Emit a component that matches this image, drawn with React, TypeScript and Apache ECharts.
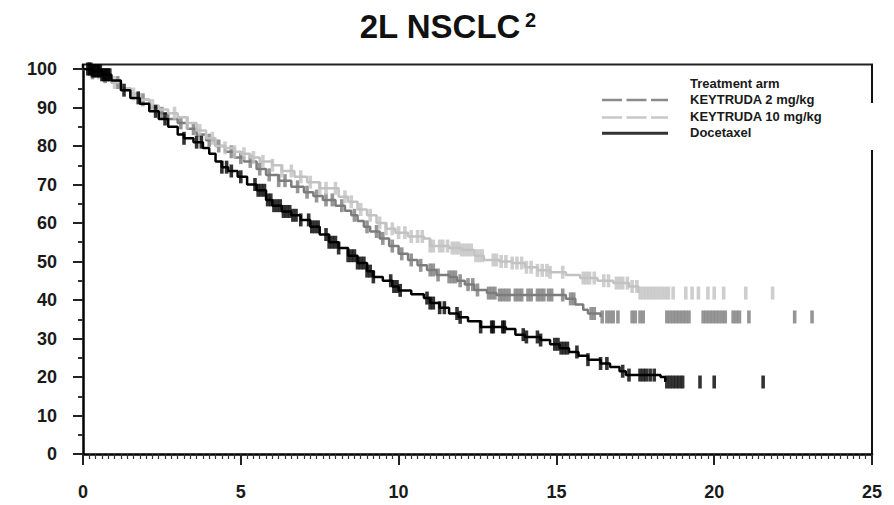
import React, { useEffect, useRef } from 'react';
import * as echarts from 'echarts';

// ---- Data (months, % survival) ----
const titleMain = '2L NSCLC';
const titleSup = '2';
const legendHeader = 'Treatment arm';
const seriesNames = ['KEYTRUDA 2 mg/kg', 'KEYTRUDA 10 mg/kg', 'Docetaxel'];

const keytruda2Curve: [number, number][] = [
  [0, 100], [0.3, 99], [0.6, 98], [0.9, 96.5], [1.2, 95], [1.5, 93.5], [1.8, 92], [2.1, 90],
  [2.4, 88.5], [2.7, 87], [3.0, 86], [3.3, 84.5], [3.6, 83], [3.9, 81.5], [4.2, 80], [4.5, 78.5],
  [4.8, 77], [5.1, 76], [5.5, 74], [5.8, 72.5], [6.2, 71], [6.6, 69.4], [7.0, 68], [7.3, 67],
  [7.6, 66], [8.0, 64.5], [8.3, 63.2], [8.5, 62], [8.7, 60.5], [8.9, 59], [9.1, 57.8], [9.4, 56],
  [9.7, 54], [10.0, 52], [10.3, 50.4], [10.6, 49], [10.9, 47.8], [11.2, 46.5], [11.6, 46],
  [11.85, 45], [12.1, 44], [12.4, 42.6], [12.8, 41.8], [13.1, 41.3], [15.3, 40.3], [15.6, 38.8],
  [15.85, 37.5], [16.0, 36.5], [16.4, 35.6]
];
const keytruda10Curve: [number, number][] = [
  [0, 100], [0.3, 99], [0.6, 98], [0.9, 96.5], [1.2, 95], [1.5, 93.5], [1.8, 92], [2.1, 90.5],
  [2.4, 89.5], [2.7, 88.5], [3.0, 87.5], [3.3, 86], [3.6, 84], [3.9, 82], [4.2, 80], [4.5, 79.5],
  [4.8, 78.5], [5.0, 78], [5.3, 77], [5.6, 76], [6.0, 75], [6.3, 73.5], [6.7, 72], [7.1, 70.6],
  [7.5, 69], [8.1, 66.8], [8.4, 65.5], [8.7, 63.5], [9.0, 62], [9.3, 60], [9.6, 58.5], [9.9, 57.5],
  [10.3, 56.5], [10.8, 56], [11.0, 54], [11.6, 53.5], [12.0, 53], [12.4, 51.5], [12.7, 50.4],
  [13.2, 50], [13.6, 49.6], [14.0, 48.5], [14.4, 47.7], [14.8, 47.2], [15.3, 46.5], [15.75, 45.7],
  [16.3, 45], [16.8, 44.4], [17.3, 43.5], [17.6, 41.8]
];
const docetaxelCurve: [number, number][] = [
  [0, 100], [0.3, 99.5], [0.6, 98.5], [0.9, 97], [1.2, 94.5], [1.5, 92.5], [1.8, 91], [2.1, 89],
  [2.4, 87], [2.7, 85], [3.0, 83], [3.2, 82], [3.5, 81], [3.8, 79.5], [4.0, 78], [4.2, 76],
  [4.4, 74.5], [4.6, 73.5], [4.9, 72], [5.2, 70], [5.5, 68.5], [5.8, 66], [6.0, 64.5], [6.3, 63],
  [6.6, 62], [6.9, 60.8], [7.2, 59], [7.5, 57], [7.8, 55], [8.1, 53.5], [8.4, 51.5], [8.7, 49.6],
  [9.0, 47.5], [9.2, 46], [9.5, 45], [9.8, 43.5], [10.0, 42.5], [10.4, 41.5], [10.8, 40.5],
  [11.0, 39.2], [11.3, 38], [11.6, 36.5], [11.9, 35.5], [12.2, 34.5], [12.6, 33], [13.4, 32.5],
  [13.7, 31], [14.0, 30.4], [14.5, 29.6], [14.8, 28.5], [15.1, 27.5], [15.4, 26.5], [15.7, 25.5],
  [16.0, 24.5], [16.4, 23.5], [16.7, 22.6], [17.0, 21.5], [17.2, 20.5], [18.3, 20], [18.45, 18.7]
];

const keytruda2Censor: number[] = [
  0.3, 0.7, 1.1, 1.9, 2.5, 3.1, 3.5, 4.0, 4.3, 4.7, 5.0, 5.3, 5.6, 5.9, 6.2, 6.4, 6.8, 7.1, 7.4,
  7.7, 7.9, 8.2, 8.6, 9.0, 9.3, 9.5, 9.8, 10.1, 10.4, 10.7, 11.0, 11.1, 11.25, 11.6, 11.7, 11.8,
  11.95, 12.2, 12.35, 12.5, 12.85, 12.95, 13.05, 13.2, 13.3, 13.4, 13.5, 13.7, 13.8, 13.9, 14.1,
  14.2, 14.4, 14.5, 14.6, 14.75, 14.85, 15.2, 15.45, 15.55, 16.1, 16.2, 16.45, 16.6, 16.7, 16.8,
  16.95, 17.4, 17.5, 17.65, 17.75, 18.5, 18.6, 18.7, 18.8, 18.9, 19.0, 19.1, 19.2, 19.65, 19.75,
  19.85, 19.95, 20.05, 20.15, 20.25, 20.35, 20.6, 20.7, 20.8, 21.1, 22.55, 23.1
];
const keytruda10Censor: number[] = [
  0.5, 1.0, 1.6, 2.2, 2.9, 3.3, 3.7, 4.1, 4.5, 4.8, 5.1, 5.4, 5.7, 6.0, 6.3, 6.6, 6.9, 7.2, 7.5,
  7.7, 8.0, 8.3, 8.5, 8.8, 9.1, 9.4, 9.6, 9.8, 10.0, 10.2, 10.4, 10.6, 10.75, 11.0, 11.1, 11.3,
  11.4, 11.55, 11.7, 11.8, 11.9, 12.0, 12.1, 12.2, 12.3, 12.45, 12.55, 12.65, 13.0, 13.1, 13.25,
  13.4, 13.6, 13.75, 13.9, 14.05, 14.2, 14.4, 14.55, 14.7, 14.8, 15.2, 15.85, 15.95, 16.05, 16.2,
  16.5, 16.65, 16.9, 17.0, 17.1, 17.25, 17.4, 17.55, 17.65, 17.75, 17.85, 17.95, 18.05, 18.15,
  18.25, 18.35, 18.45, 18.55, 18.7, 19.1, 19.3, 19.5, 19.8, 20.0, 20.3, 21.0, 21.85
];
const docetaxelCensor: number[] = [
  0.15, 0.2, 0.25, 0.3, 0.35, 0.4, 0.45, 0.5, 0.55, 0.6, 0.65, 0.7, 0.75, 0.8, 0.85, 1.3, 1.75,
  2.3, 2.6, 3.2, 3.6, 3.75, 4.4, 4.55, 4.7, 5.0, 5.45, 5.55, 5.65, 5.75, 5.85, 5.95, 6.05, 6.15,
  6.25, 6.35, 6.45, 6.55, 6.65, 6.75, 6.9, 7.15, 7.25, 7.35, 7.45, 7.7, 7.8, 7.9, 8.0, 8.1, 8.4,
  8.5, 8.6, 8.7, 8.8, 8.9, 9.0, 9.1, 9.2, 9.75, 9.85, 9.95, 10.05, 10.9, 11.0, 11.1, 11.3, 11.45,
  11.85, 11.95, 12.6, 12.95, 13.0, 13.3, 13.35, 13.95, 14.05, 14.4, 14.5, 14.95, 15.05, 15.15,
  15.25, 15.35, 15.65, 16.0, 16.4, 16.6, 17.1, 17.3, 17.65, 17.75, 17.85, 17.97, 18.1, 18.5,
  18.6, 18.7, 18.8, 18.9, 19.0, 19.55, 20.0, 21.55
];

const FONT = '"Liberation Sans", Arial, sans-serif';
const COLORS = ['#7c7c7c', '#c2c2c2', '#000000'];

function valueAt(curve: [number, number][], t: number): number {
  let v = curve[0][1];
  for (const [x, y] of curve) {
    if (x <= t) v = y;
    else break;
  }
  return v;
}

function censorPoints(curve: [number, number][], times: number[]) {
  return times.map((t) => [t, valueAt(curve, t)]);
}

export default function App() {
  const ref = useRef<HTMLDivElement>(null);
  useEffect(() => {
    const chart = echarts.init(ref.current!, null, { renderer: 'svg' });
    const curves = [keytruda2Curve, keytruda10Curve, docetaxelCurve];
    const censors = [keytruda2Censor, keytruda10Censor, docetaxelCensor];
    const series: any[] = [];
    [0, 1, 2].forEach((i) => {
      series.push({
        name: seriesNames[i],
        type: 'line',
        step: 'end',
        data: curves[i],
        showSymbol: false,
        lineStyle: { color: COLORS[i], width: 2.5 },
        z: 2 + i,
        silent: true,
      });
      series.push({
        name: seriesNames[i] + ' censored',
        type: 'scatter',
        data: censorPoints(curves[i], censors[i]),
        symbol: 'rect',
        symbolSize: [3.6, 13],
        itemStyle: { color: COLORS[i] },
        z: 2 + i,
        silent: true,
      });
    });

    const legendY = [100, 117.5, 133.3];
    const legendGraphics: any[] = [
      {
        type: 'text', left: 690, top: 77,
        style: { text: legendHeader, font: `bold 13px ${FONT}`, fill: '#1a1a1a' },
      },
    ];
    [0, 1, 2].forEach((i) => {
      legendGraphics.push({
        type: 'line',
        shape: { x1: 602, y1: legendY[i], x2: 668, y2: legendY[i] },
        style: {
          stroke: i === 2 ? '#333333' : i === 0 ? '#8a8a8a' : '#c8c8c8',
          lineWidth: i === 2 ? 3 : 2.5,
          lineDash: i === 2 ? null : [20, 4.5],
        },
      });
      legendGraphics.push({
        type: 'text', left: 690, top: legendY[i] - 7.5,
        style: { text: seriesNames[i], font: `bold 13px ${FONT}`, fill: '#1a1a1a' },
      });
    });

    chart.setOption({
      animation: false,
      backgroundColor: '#ffffff',
      grid: { left: 83, right: 22, top: 69, bottom: 51 },
      xAxis: {
        type: 'value', min: 0, max: 25, interval: 5,
        axisLine: { lineStyle: { color: '#000', width: 2.5 } },
        axisTick: { length: 11, lineStyle: { color: '#222', width: 2 } },
        minorTick: { show: true, splitNumber: 25, length: 5, lineStyle: { color: '#333', width: 1.2 } },
        splitLine: { show: false },
        axisLabel: { margin: 29, fontSize: 18, fontWeight: 'bold', fontFamily: FONT, color: '#1a1a1a' },
      },
      yAxis: {
        type: 'value', min: 0, max: 100, interval: 10,
        axisLine: { show: true, lineStyle: { color: '#000', width: 2.5 } },
        axisTick: { show: true, length: 10, lineStyle: { color: '#222', width: 2 } },
        minorTick: { show: true, splitNumber: 2, length: 5, lineStyle: { color: '#333', width: 2 } },
        splitLine: { show: false },
        axisLabel: { margin: 26, fontSize: 18, fontWeight: 'bold', fontFamily: FONT, color: '#1a1a1a' },
      },
      graphic: [
        {
          type: 'text', x: 440, y: 26,
          style: { text: titleMain, font: `bold 33px ${FONT}`, fill: '#111', textAlign: 'center', textVerticalAlign: 'middle' },
        },
        {
          type: 'text', x: 525, y: 20,
          style: { text: titleSup, font: `bold 20px ${FONT}`, fill: '#111', textAlign: 'left', textVerticalAlign: 'middle' },
        },
        { type: 'line', shape: { x1: 82, y1: 64.5, x2: 873, y2: 64.5 }, style: { stroke: '#222', lineWidth: 2 } },
        { type: 'line', shape: { x1: 83, y1: 64, x2: 83, y2: 70 }, style: { stroke: '#000', lineWidth: 2.5 } },
        { type: 'line', shape: { x1: 872, y1: 64, x2: 872, y2: 103 }, style: { stroke: '#111', lineWidth: 2 } },
        { type: 'line', shape: { x1: 872, y1: 150, x2: 872, y2: 454 }, style: { stroke: '#111', lineWidth: 2 } },
        ...legendGraphics,
      ],
      series,
    });
    return () => chart.dispose();
  }, []);
  return <div ref={ref} style={{ position: 'fixed', left: 0, top: 0, width: 894, height: 505 }} />;
}
